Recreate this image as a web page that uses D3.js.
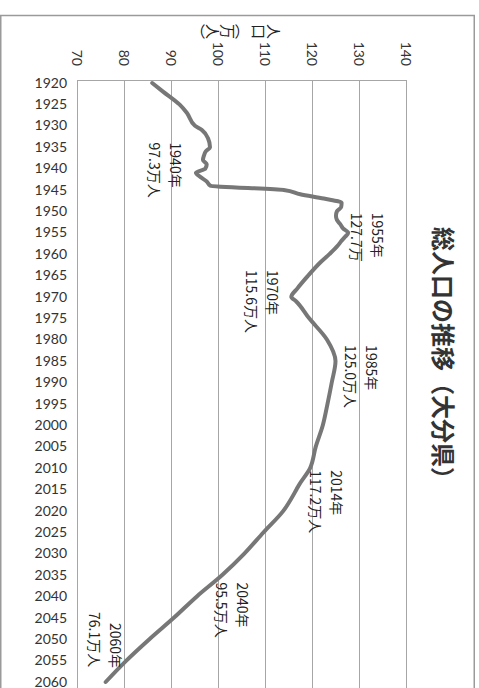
<!DOCTYPE html>
<html lang="ja">
<head>
<meta charset="utf-8">
<script src="https://cdn.jsdelivr.net/npm/d3@7"></script>
<style>
  html, body { margin: 0; padding: 0; background: #fff; }
  svg { display: block; }
  text { font-family: "Noto Sans CJK JP", "Noto Sans", sans-serif; fill: #222; }
  .year text { font-family: Lato, "Noto Sans", sans-serif; font-size: 14px; fill: #333; }
</style>
</head>
<body>
<svg id="chart" width="479" height="688"></svg>
<script>
// 大分県の総人口（万人）
const years = [1920, 1922, 1925, 1927, 1930, 1931, 1933, 1935, 1936, 1937, 1938, 1939,
  1940, 1941, 1942, 1943, 1944, 1945, 1946, 1947, 1948, 1949, 1950, 1951, 1952, 1953,
  1954, 1955, 1956, 1957, 1958, 1960, 1962, 1965, 1968, 1970, 1971, 1975, 1980, 1985,
  1990, 1995, 2000, 2005, 2010, 2014, 2015, 2020, 2025, 2030, 2035, 2040, 2045, 2050,
  2055, 2060];
const population = [86.0, 88.3, 91.8, 93.4, 95.1, 96.6, 97.9, 98.3, 97.4, 97.0, 96.8, 97.6,
  97.3, 95.3, 96.3, 97.6, 98.4, 114.0, 117.5, 122.5, 126.3, 126.2, 125.3, 125.1, 125.3, 126.0,
  126.6, 127.7, 127.0, 126.2, 125.5, 123.7, 121.7, 119.2, 116.9, 115.6, 116.6, 119.4, 123.2, 125.0,
  124.2, 123.3, 122.3, 120.8, 119.6, 117.2, 116.7, 113.9, 109.7, 105.6, 100.9, 95.5, 90.6, 85.4,
  80.5, 76.1];

const yearTicks = d3.range(1920, 2061, 5);
const valueTicks = [70, 80, 90, 100, 110, 120, 130, 140];

const title = "総人口の推移（大分県）";
const axisTitle = "人口（万人）";

// 注記（年・人口）
const noteYears = [1940, 1955, 1970, 1985, 2014, 2040, 2060];
const noteYearText = ["1940年", "1955年", "1970年", "1985年", "2014年", "2040年", "2060年"];
const noteValueText = ["97.3万人", "127.7万", "115.6万人", "125.0万人", "117.2万人", "95.5万人", "76.1万人"];
const noteValues = [97.3, 127.7, 115.6, 125.0, 117.2, 95.5, 76.1];

// 注記の配置（点からのずれ：横方向, 1行目と2行目の縦方向の開始位置）
const noteLayout = [
  { dx: -29, dy: -26, dy2: -26 },
  { dx: 30, dy: -20, dy2: -20 },
  { dx: -18, dy: -27, dy2: -27 },
  { dx: 36, dy: -16, dy2: -16 },
  { dx: 38, dy: -15, dy2: -15 },
  { dx: 46, dy: -14, dy2: -14 },
  { dx: 10, dy: -59, dy2: -70 }
];

const svg = d3.select("#chart");
const plotTop = 80, plotBottom = 688;

const x = d3.scaleLinear().domain([70, 140]).range([77, 406]);
const y = d3.scaleLinear().domain([1920, 2060]).range([83, 682]);

// 外枠
svg.append("rect")
  .attr("x", 0.75).attr("y", 15.5).attr("width", 473.5).attr("height", 700)
  .attr("fill", "none").attr("stroke", "#9a9a9a").attr("stroke-width", 1.5);

// 目盛線
svg.append("g").selectAll("line").data(valueTicks).join("line")
  .attr("x1", d => Math.round(x(d)) + 0.5).attr("x2", d => Math.round(x(d)) + 0.5)
  .attr("y1", plotTop).attr("y2", plotBottom)
  .attr("stroke", "#a6a6a6").attr("stroke-width", 1);

svg.append("line")
  .attr("x1", x(70)).attr("x2", x(140) + 1)
  .attr("y1", plotTop + 0.5).attr("y2", plotTop + 0.5)
  .attr("stroke", "#a6a6a6").attr("stroke-width", 1);

// 人口の目盛ラベル（90度回転）
const valueAxis = svg.append("g")
  .attr("transform", `translate(0,${plotTop})`)
  .call(d3.axisTop(x).tickValues(valueTicks).tickSize(0).tickFormat(d3.format("d")));
valueAxis.select(".domain").remove();
valueAxis.selectAll("text")
  .attr("x", 0).attr("y", 0).attr("dy", null)
  .attr("transform", "translate(0,-14) rotate(90)")
  .attr("text-anchor", "end")
  .attr("dominant-baseline", "central")
  .style("font-size", "14px").style("fill", "#333")
  .style("font-family", "Lato, 'Noto Sans', sans-serif");

// 年の目盛ラベル
const yearAxis = svg.append("g").attr("class", "year")
  .attr("transform", `translate(${x(70)},0)`)
  .call(d3.axisLeft(y).tickValues(yearTicks).tickSize(0).tickPadding(10).tickFormat(d3.format("d")));
yearAxis.select(".domain").remove();
yearAxis.selectAll("text").attr("dy", "0.3em").style("font-size", "14px");

// 人口の推移
const series = years.map((yr, i) => ({ year: yr, value: population[i] }));
svg.append("path")
  .datum(series)
  .attr("fill", "none")
  .attr("stroke", "#777")
  .attr("stroke-width", 4)
  .attr("stroke-linejoin", "round")
  .attr("stroke-linecap", "round")
  .attr("d", d3.line().x(d => x(d.value)).y(d => y(d.year)).curve(d3.curveMonotoneY));

// 注記
const notes = svg.append("g");
noteYears.forEach((yr, i) => {
  const px = x(noteValues[i]), py = y(yr), L = noteLayout[i];
  notes.append("text")
    .attr("transform", `translate(${px + L.dx},${py + L.dy}) rotate(90)`)
    .attr("dominant-baseline", "central")
    .style("font-size", "14px")
    .text(noteYearText[i]);
  notes.append("text")
    .attr("transform", `translate(${px + L.dx - 21},${py + L.dy2}) rotate(90)`)
    .attr("dominant-baseline", "central")
    .style("font-size", "14px")
    .text(noteValueText[i]);
});

// 軸タイトル（縦書きの文字を横に倒して並べる）
const verticalForms = { "（": "︵", "）": "︶" };
const titleChars = Array.from(axisTitle);
svg.append("g").selectAll("text").data(titleChars).join("text")
  .attr("transform", (d, i) => `translate(${274.5 - i * 15.3},31.5) rotate(90)`)
  .attr("text-anchor", "middle")
  .attr("dominant-baseline", "central")
  .style("font-size", "15px")
  .text(d => verticalForms[d] || d);

// タイトル
svg.append("text")
  .attr("transform", "translate(444,227) rotate(90)")
  .attr("dominant-baseline", "central")
  .style("font-size", "24px")
  .style("font-weight", "bold")
  .style("fill", "#333")
  .text(title);
</script>
</body>
</html>
